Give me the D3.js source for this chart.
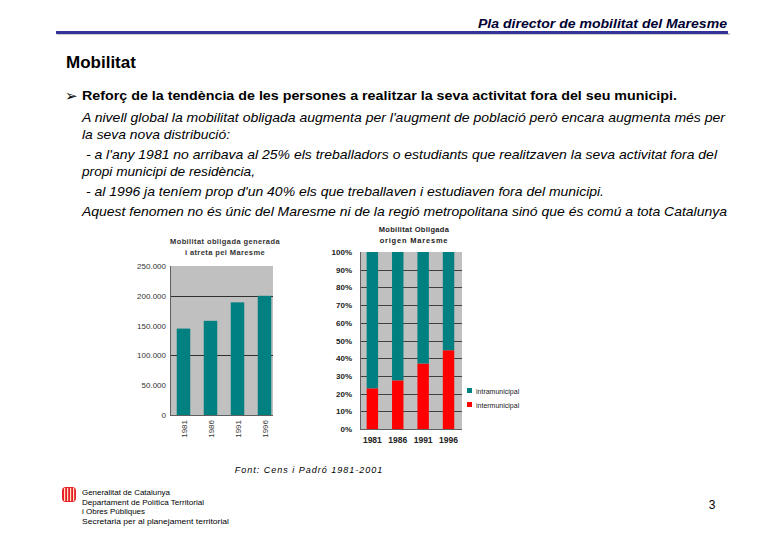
<!DOCTYPE html>
<html>
<head>
<meta charset="utf-8">
<script src="https://cdn.jsdelivr.net/npm/d3@7"></script>
<style>
  html, body { margin: 0; padding: 0; background: #fff; }
  svg { display: block; font-family: "Liberation Sans", Arial, sans-serif; }
</style>
</head>
<body>
<svg id="chart" width="780" height="540"></svg>
<script>
// ---- Data ----
const years = ["1981", "1986", "1991", "1996"];
const totalMobility = [145000, 158000, 189000, 200000];      // Mobilitat obligada generada i atreta
const interShare = [0.23, 0.275, 0.37, 0.445];                // intermunicipal share
const intraShare = interShare.map(v => 1 - v);                // intramunicipal share (complement)
const leftTicks = [0, 50000, 100000, 150000, 200000, 250000];
const leftTickLabels = ["0", "50.000", "100.000", "150.000", "200.000", "250.000"];
const rightTicks = [0, 0.1, 0.2, 0.3, 0.4, 0.5, 0.6, 0.7, 0.8, 0.9, 1];
const legendLabels = ["intramunicipal", "intermunicipal"];

const bodyLines = [
  {t: "A nivell global la mobilitat obligada augmenta per l'augment de població però encara augmenta més per", x: 82, y: 122, w: 643},
  {t: "la seva nova distribució:", x: 82, y: 139, w: 148},
  {t: " - a l'any 1981 no arribava al 25% els treballadors o estudiants que realitzaven la seva activitat fora del", x: 82, y: 159, w: 635},
  {t: "propi municipi de residència,", x: 82, y: 176, w: 173},
  {t: " - al 1996 ja teníem prop d'un 40% els que treballaven i estudiaven fora del municipi.", x: 82, y: 196, w: 522},
  {t: "Aquest fenomen no és únic del Maresme ni de la regió metropolitana sinó que és comú a tota Catalunya", x: 82, y: 216, w: 645}
];
const footerLines = [
  {t: "Generalitat de Catalunya", w: 88},
  {t: "Departament de Política Territorial", w: 122},
  {t: "i Obres Públiques", w: 63},
  {t: "Secretaria per al planejament territorial", w: 147}
];

const TEAL = "#008080", RED = "#ff0000", PLOTBG = "#c0c0c0";
const svg = d3.select("#chart");

// ---- Header ----
svg.append("text").attr("x", 727).attr("y", 28).attr("text-anchor", "end")
  .attr("font-size", 12.5).attr("font-weight", "bold").attr("font-style", "italic")
  .attr("fill", "#000033").attr("textLength", 249).attr("lengthAdjust", "spacingAndGlyphs")
  .text("Pla director de mobilitat del Maresme");
svg.append("rect").attr("x", 57).attr("y", 33).attr("width", 673).attr("height", 2).attr("fill", "#cccccc");
svg.append("rect").attr("x", 56).attr("y", 31).attr("width", 672).attr("height", 3).attr("fill", "#333399");

svg.append("text").attr("x", 66).attr("y", 68).attr("font-size", 17).attr("font-weight", "bold")
  .attr("fill", "#000").text("Mobilitat");

svg.append("text").attr("x", 65).attr("y", 101).attr("font-size", 15)
  .attr("font-family", "DejaVu Sans").attr("fill", "#000").text("➢");
svg.append("text").attr("x", 82).attr("y", 100).attr("font-size", 13).attr("font-weight", "bold")
  .attr("fill", "#000").attr("textLength", 595).attr("lengthAdjust", "spacingAndGlyphs")
  .text("Reforç de la tendència de les persones a realitzar la seva activitat fora del seu municipi.");

svg.selectAll("text.body").data(bodyLines).join("text").attr("class", "body")
  .attr("x", d => d.x).attr("y", d => d.y).attr("font-size", 13).attr("font-style", "italic")
  .attr("fill", "#000").attr("textLength", d => d.w).attr("lengthAdjust", "spacingAndGlyphs")
  .style("white-space", "pre")
  .text(d => d.t);

// ---- Left chart ----
const L = {x0: 170, x1: 273, y0: 266, y1: 415};
const xL = d3.scaleBand().domain(years).range([170, 278]).paddingInner(0.5).paddingOuter(0.25);
const yL = d3.scaleLinear().domain([0, 250000]).range([L.y1, L.y0]);
const gL = svg.append("g");
gL.append("rect").attr("x", L.x0).attr("y", L.y0).attr("width", L.x1 - L.x0).attr("height", L.y1 - L.y0).attr("fill", PLOTBG);
gL.selectAll("line.grid").data([100000, 200000]).join("line")
  .attr("x1", L.x0).attr("x2", L.x1).attr("y1", d => Math.round(yL(d)) + 0.5).attr("y2", d => Math.round(yL(d)) + 0.5)
  .attr("stroke", "#303030").attr("stroke-width", 1);
gL.selectAll("rect.bar").data(years).join("rect").attr("class", "bar")
  .attr("x", d => xL(d)).attr("width", xL.bandwidth())
  .attr("y", (d, i) => yL(totalMobility[i])).attr("height", (d, i) => L.y1 - yL(totalMobility[i]))
  .attr("fill", TEAL);
gL.append("line").attr("x1", L.x0 + 0.5).attr("x2", L.x0 + 0.5).attr("y1", L.y0).attr("y2", L.y1).attr("stroke", "#606060");
gL.append("line").attr("x1", L.x0).attr("x2", L.x1).attr("y1", L.y1 + 0.5).attr("y2", L.y1 + 0.5).attr("stroke", "#606060");
const axL = d3.axisLeft(yL).tickValues(leftTicks).tickFormat((d, i) => leftTickLabels[i]).tickSize(0).tickPadding(4);
gL.append("g").attr("transform", `translate(${L.x0},0)`).call(axL)
  .call(g => g.select(".domain").remove())
  .call(g => g.selectAll("text").attr("font-size", 8).attr("fill", "#333").attr("font-family", "Liberation Sans, Arial, sans-serif"));
gL.append("g").selectAll("text").data(years).join("text")
  .attr("transform", d => `translate(${xL(d) + xL.bandwidth() / 2 + 3},${L.y1 + 5}) rotate(-90)`)
  .attr("text-anchor", "end").attr("font-size", 8).attr("fill", "#333").text(d => d);
gL.append("text").attr("x", 225).attr("y", 244).attr("text-anchor", "middle").attr("font-size", 7.5)
  .attr("font-weight", "bold").attr("fill", "#333").attr("letter-spacing", 0.4).text("Mobilitat obligada generada");
gL.append("text").attr("x", 225).attr("y", 255).attr("text-anchor", "middle").attr("font-size", 7.5)
  .attr("font-weight", "bold").attr("fill", "#333").attr("letter-spacing", 0.4).text("i atreta pel Maresme");

// ---- Right chart ----
const R = {x0: 360, x1: 462, y0: 252, y1: 429};
const xR = d3.scaleBand().domain(years).range([360.3, 460.6]).paddingInner(0.55).paddingOuter(0.25);
const yR = d3.scaleLinear().domain([0, 1]).range([R.y1, R.y0]);
const gR = svg.append("g");
gR.append("rect").attr("x", R.x0).attr("y", R.y0).attr("width", R.x1 - R.x0).attr("height", R.y1 - R.y0).attr("fill", PLOTBG);
gR.selectAll("line.grid").data(rightTicks.slice(1, -1)).join("line")
  .attr("x1", R.x0).attr("x2", R.x1).attr("y1", d => Math.round(yR(d)) + 0.5).attr("y2", d => Math.round(yR(d)) + 0.5)
  .attr("stroke", "#404040").attr("stroke-width", 1);
const stackData = years.map((y, i) => ({year: y, inter: interShare[i], intra: intraShare[i]}));
const stack = d3.stack().keys(["inter", "intra"])(stackData);
const colorR = {inter: RED, intra: TEAL};
gR.selectAll("g.layer").data(stack).join("g").attr("fill", d => colorR[d.key])
  .selectAll("rect").data(d => d).join("rect")
  .attr("x", d => xR(d.data.year)).attr("width", xR.bandwidth())
  .attr("y", d => yR(d[1])).attr("height", d => yR(d[0]) - yR(d[1]));
gR.append("line").attr("x1", R.x0 + 0.5).attr("x2", R.x0 + 0.5).attr("y1", R.y0).attr("y2", R.y1).attr("stroke", "#606060");
gR.append("line").attr("x1", R.x0).attr("x2", R.x1).attr("y1", R.y1 + 0.5).attr("y2", R.y1 + 0.5).attr("stroke", "#606060");
const axR = d3.axisLeft(yR).tickValues(rightTicks).tickFormat(d3.format(".0%")).tickSize(0).tickPadding(8);
gR.append("g").attr("transform", `translate(${R.x0},0)`).call(axR)
  .call(g => g.select(".domain").remove())
  .call(g => g.selectAll("text").attr("font-size", 8).attr("font-weight", "bold").attr("fill", "#222").attr("font-family", "Liberation Sans, Arial, sans-serif"));
const axRx = d3.axisBottom(xR).tickSize(0).tickPadding(8);
gR.append("g").attr("transform", `translate(0,${R.y1})`).call(axRx)
  .call(g => g.select(".domain").remove())
  .call(g => g.selectAll("text").attr("font-size", 8.5).attr("font-weight", "bold").attr("fill", "#222").attr("font-family", "Liberation Sans, Arial, sans-serif"));
gR.append("text").attr("x", 414).attr("y", 232).attr("text-anchor", "middle").attr("font-size", 7.5)
  .attr("font-weight", "bold").attr("fill", "#222").attr("letter-spacing", 0.3).text("Mobilitat Obligada");
gR.append("text").attr("x", 414).attr("y", 243).attr("text-anchor", "middle").attr("font-size", 7.5)
  .attr("font-weight", "bold").attr("fill", "#222").attr("letter-spacing", 0.8).text("origen Maresme");

// legend
const legColors = [TEAL, RED];
const leg = gR.append("g");
leg.selectAll("rect").data(legendLabels).join("rect")
  .attr("x", 467).attr("y", (d, i) => 388 + i * 14).attr("width", 5).attr("height", 5).attr("fill", (d, i) => legColors[i]);
leg.selectAll("text").data(legendLabels).join("text")
  .attr("x", 476).attr("y", (d, i) => 393.5 + i * 14).attr("font-size", 7).attr("fill", "#222").text(d => d);

// ---- Source ----
svg.append("text").attr("x", 309).attr("y", 473).attr("text-anchor", "middle").attr("font-size", 9)
  .attr("font-style", "italic").attr("fill", "#000").attr("letter-spacing", 1).text("Font: Cens i Padró 1981-2001");

// ---- Footer ----
const logo = svg.append("g");
logo.append("rect").attr("x", 62).attr("y", 487).attr("width", 14).attr("height", 15).attr("rx", 4).attr("fill", "#e8202a");
logo.selectAll("rect.s").data([0, 1, 2, 3]).join("rect").attr("class", "s")
  .attr("x", d => 64 + d * 3).attr("y", 488).attr("width", 1.2).attr("height", 13).attr("fill", "#ffe0c0");
svg.selectAll("text.foot").data(footerLines).join("text").attr("class", "foot")
  .attr("x", 82).attr("y", (d, i) => 495 + i * 9.5).attr("font-size", 7.8).attr("fill", "#000")
  .attr("textLength", d => d.w).attr("lengthAdjust", "spacingAndGlyphs").text(d => d.t);
svg.append("text").attr("x", 712).attr("y", 509).attr("text-anchor", "middle").attr("font-size", 12)
  .attr("fill", "#000").text("3");
</script>
</body>
</html>
